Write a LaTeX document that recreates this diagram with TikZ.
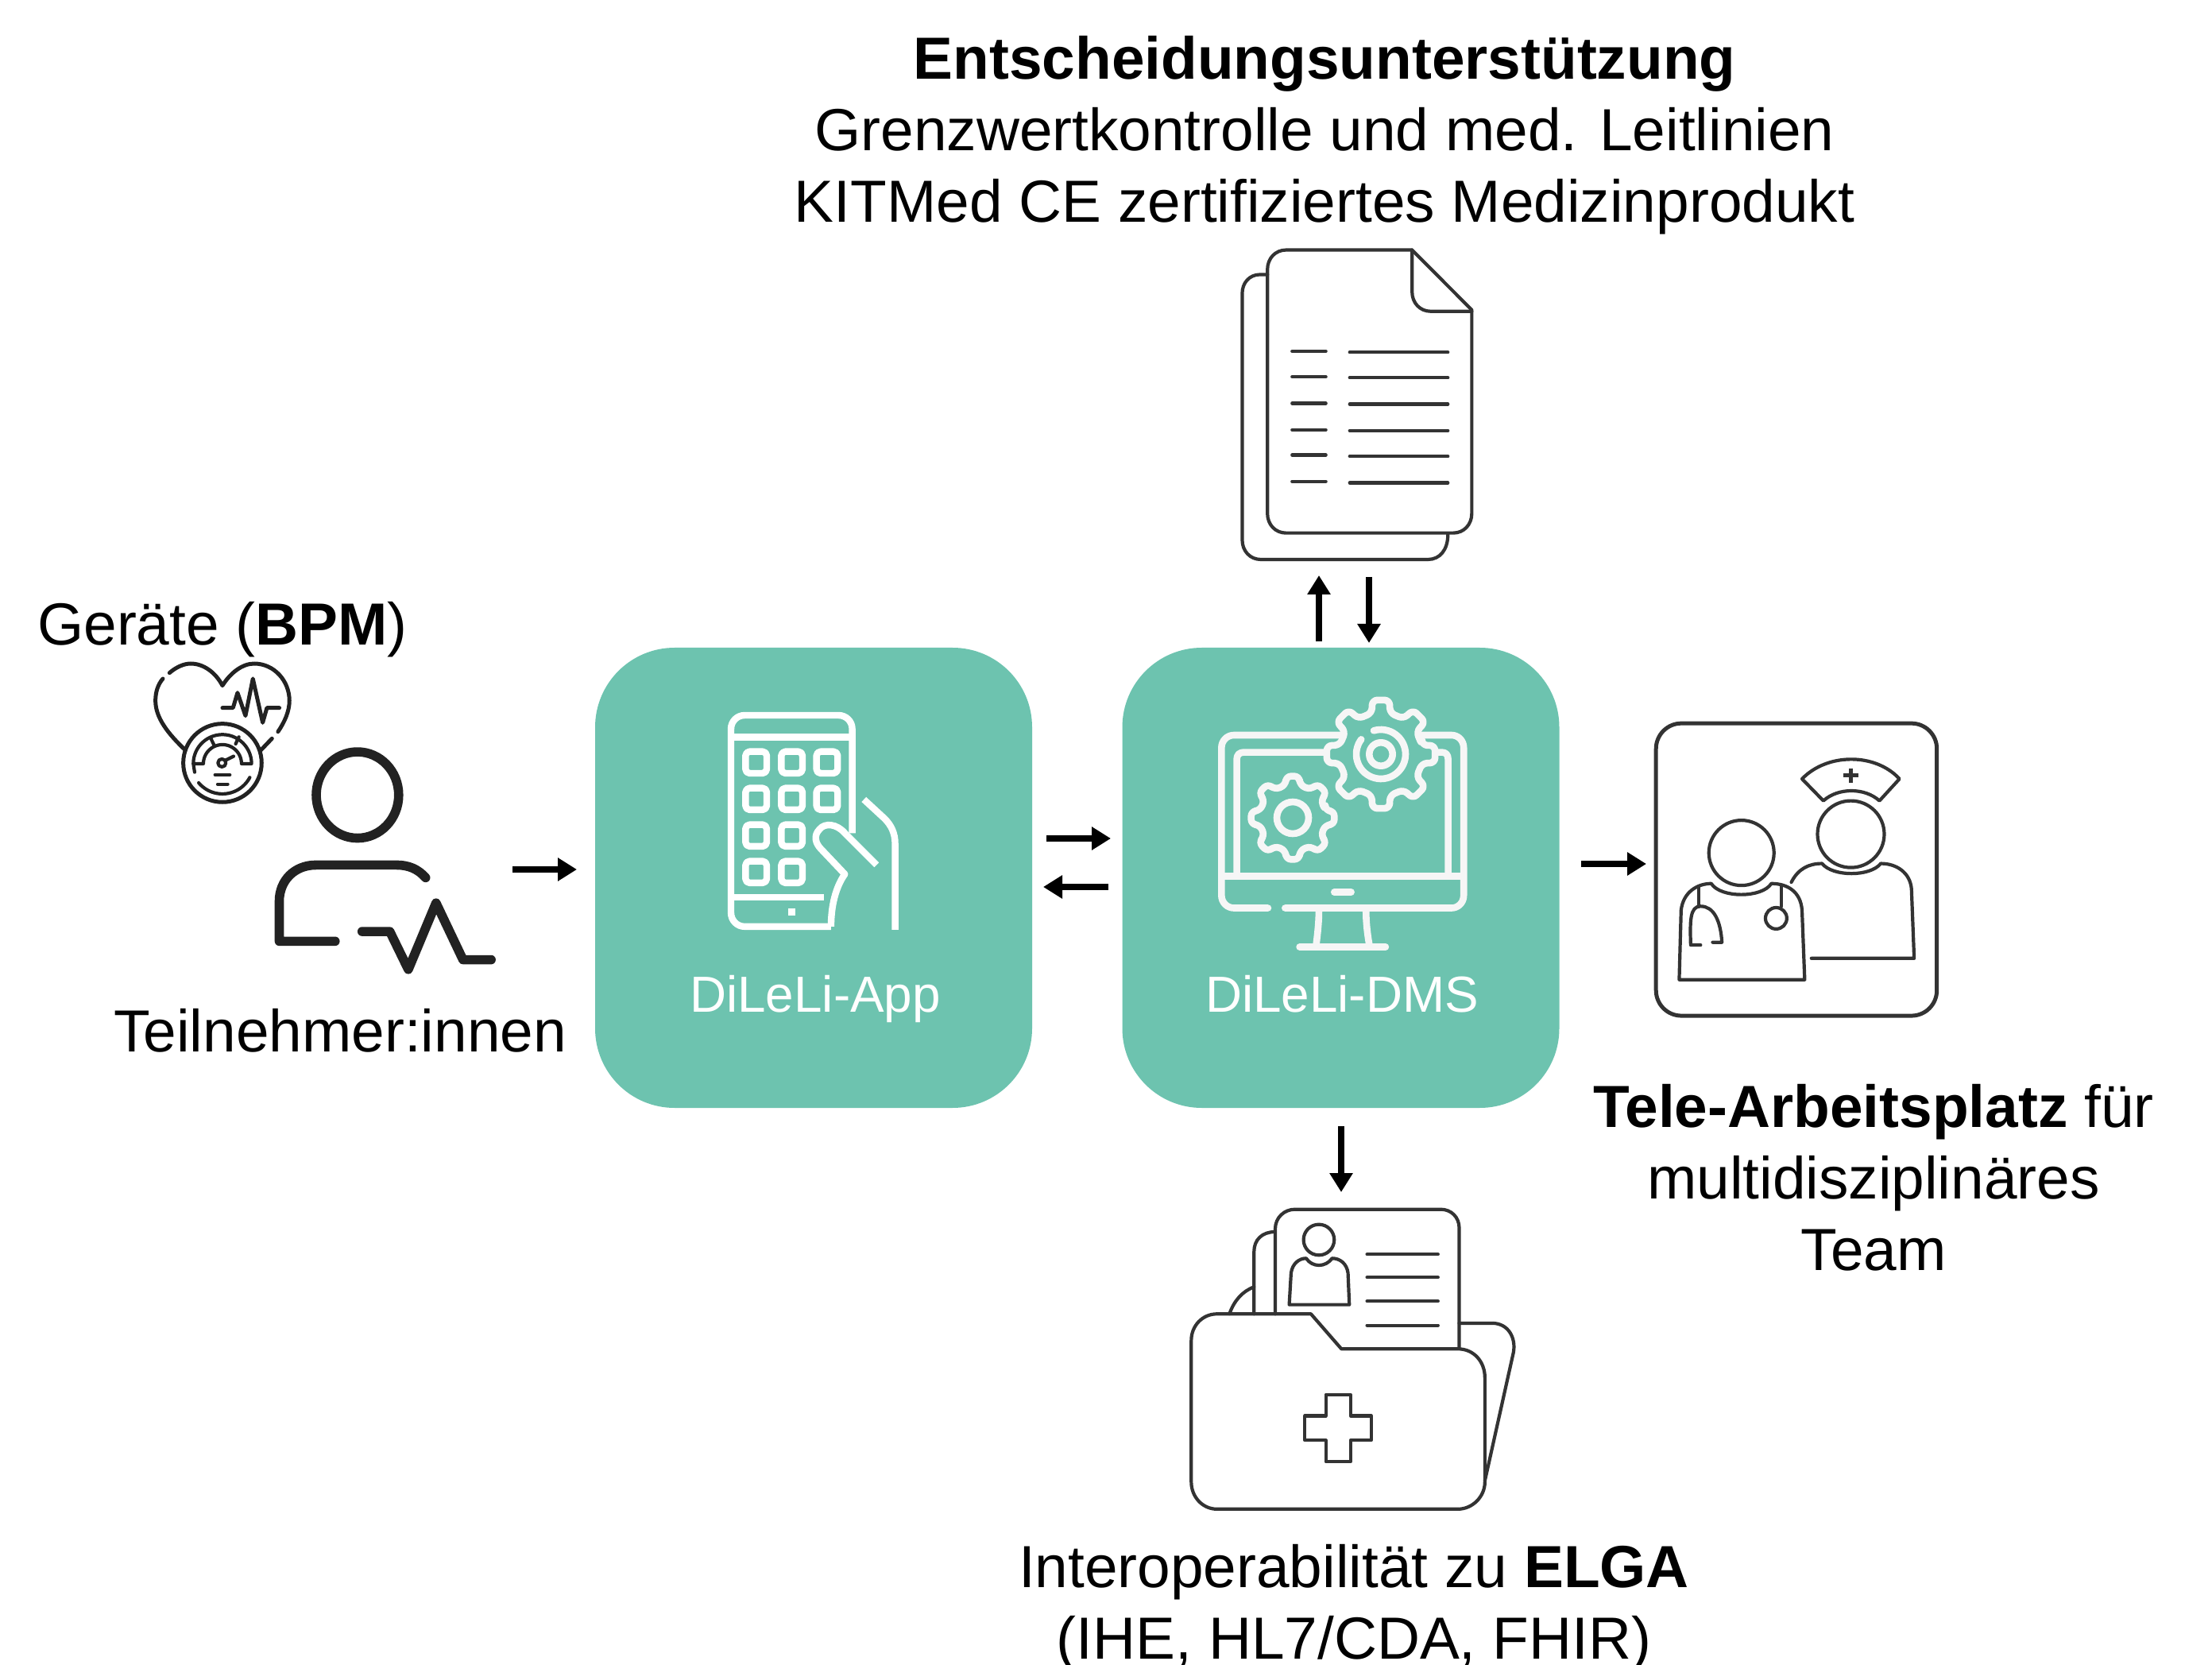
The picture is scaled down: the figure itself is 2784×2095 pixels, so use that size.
\documentclass[tikz,border=0pt]{standalone}
\usepackage{fontspec}
\setmainfont{Liberation Sans}
\usetikzlibrary{arrows.meta}
\definecolor{teal1}{HTML}{6DC3AF}
\definecolor{ink}{HTML}{333333}
\definecolor{inkd}{HTML}{222222}
\definecolor{paperw}{HTML}{F6F6F6}
\tikzset{
  lbl/.style={inner sep=0pt,outer sep=0pt,anchor=base,align=center,font=\fontsize{18.7}{22.5}\selectfont,text=black},
  boxlbl/.style={inner sep=0pt,anchor=base,font=\fontsize{15.95}{18}\selectfont,text=white},
  bigbox/.style={fill=teal1,draw=none,rounded corners=25pt,minimum width=137.5pt,minimum height=144.75pt,inner sep=0pt},
  flow/.style={-{Triangle[length=6pt,width=7pt]},line width=2pt,black},
  icon/.style={draw=ink,line width=1.05pt,line cap=round,line join=round},
  iconw/.style={draw=white,line width=2.1pt,line join=round},
  iconm/.style={draw=paperw,line width=2.15pt,line join=round,line cap=round},
  person/.style={draw=inkd,line width=2.9pt,line cap=round,line join=round},
  bpm/.style={draw=inkd,line width=1.25pt,line cap=round,line join=round},
  bpmt/.style={draw=inkd,line width=1.05pt,line cap=round,line join=round}
}
\newcommand{\gearshape}[3]{% centre, tip radius, root radius
  \begin{scope}[shift={#1}]
  \draw[iconm,fill=teal1,rounded corners=1.6pt]
    (-12.5:#3) \foreach \a in {0,45,...,315}{ -- (\a-12.5:#3) -- (\a-9:#2) -- (\a+9:#2) -- (\a+12.5:#3) } -- cycle;
  \end{scope}}
\begin{document}
\begin{tikzpicture}[x=0.25pt,y=-0.25pt]
\useasboundingbox (0,0) rectangle (2784,2095);

% main boxes
\node[bigbox] (app) at (1024,1104.5) {};
\node[bigbox] (dms) at (1687.5,1104.5) {};
\node[boxlbl] (applbl) at (1026,1273) {DiLeLi-App};
\node[boxlbl] (dmslbl) at (1689,1273) {DiLeLi-DMS};

% texts (anchor=base is the last line's baseline)
\node[lbl] (entsch) at (1667,280) {\textbf{Entscheidungsunterstützung}\\Grenzwertkontrolle und med. Leitlinien\\KITMed CE zertifiziertes Medizinprodukt};
\node[lbl] (geraete) at (280,812) {Geräte (\textbf{BPM})};
\node[lbl] (teiln) at (428,1323) {Teilnehmer:innen};
\node[lbl] (tele) at (2358,1598) {\textbf{Tele-Arbeitsplatz} für\\multidisziplinäres\\Team};
\node[lbl] (elga) at (1704,2087) {Interoperabilität zu \textbf{ELGA}\\(IHE, HL7/CDA, FHIR)};

% connectors
\coordinate (p1) at (645,1094); \coordinate (p2) at (726,1094);
\coordinate (a1) at (1317,1055); \coordinate (a2) at (1398,1055);
\coordinate (b1) at (1395,1116); \coordinate (b2) at (1313,1116);
\coordinate (u1) at (1660,807); \coordinate (u2) at (1660,724);
\coordinate (d1) at (1723,726); \coordinate (d2) at (1723,809);
\coordinate (r1) at (1990,1087); \coordinate (r2) at (2072,1087);
\coordinate (e1) at (1688,1417); \coordinate (e2) at (1688,1500);
\draw[flow] (p1) -- (p2);
\draw[flow] (a1) -- (a2);
\draw[flow] (b1) -- (b2);
\draw[flow] (u1) -- (u2);
\draw[flow] (d1) -- (d2);
\draw[flow] (r1) -- (r2);
\draw[flow] (e1) -- (e2);

% person
\begin{scope}[shift={(0,720)},x=0.1212pt,y=-0.102pt]
\draw[person] (928,687) ellipse (107 and 133);
\draw[person] (1105,942) .. controls (1085,915) and (1060,903) .. (1030,903) -- (820,903) .. controls (765,903) and (725,950) .. (725,1015) -- (725,1138) -- (870,1138);
\draw[person] (940,1108) -- (1012,1108) -- (1060,1225) -- (1132,1020) -- (1202,1195) -- (1275,1195);
\end{scope}

% heart and gauge
\begin{scope}[shift={(180,830)},x=0.0833pt,y=-0.0833pt]
\draw[bpm] (100,50) .. controls (125,28) and (155,15) .. (180,15) .. controls (230,15) and (275,50) .. (300,98) .. controls (330,50) and (375,15) .. (420,15) .. controls (495,15) and (553,80) .. (553,155) .. controls (553,195) and (535,235) .. (510,272);
\draw[bpm] (487,298) -- (445,342);
\draw[bpm] (75,72) .. controls (55,95) and (47,125) .. (47,155) .. controls (47,220) and (95,280) .. (160,342);
\draw[bpm] (300,182) -- (340,182) -- (357,125) -- (387,212) -- (415,72) -- (452,238) -- (468,182) -- (515,182);
\draw[bpm] (300,390) circle (148);
\draw[bpmt] (195,425) -- (190,393) plot[domain=180:360,samples=40] ({300+110*cos(\x)},{393+110*sin(\x)}) -- (372,393) plot[domain=360:180,samples=40] ({300+72*cos(\x)},{393+72*sin(\x)}) -- (190,393);
\draw[bpmt] (255,295) -- (268,322);
\draw[bpmt] (350,318) -- (362,292);
\draw[bpmt] plot[domain=140:28,samples=30] ({300+117*cos(\x)},{390+117*sin(\x)});
\draw[bpmt] (298,390) circle (15);
\draw[bpmt] (312,380) -- (342,365);
\draw[bpmt] (272,435) -- (328,435);
\draw[bpmt] (282,470) -- (320,470);
\end{scope}

% phone icon
\begin{scope}[shift={(900,880)},x=0.0833pt,y=-0.0833pt]
\draw[iconw] (438,858) -- (112,858) .. controls (83,858) and (60,835) .. (60,805) -- (60,112) .. controls (60,83) and (83,60) .. (112,60) -- (466,60) .. controls (495,60) and (518,83) .. (518,112) -- (518,505);
\draw[iconw] (60,142) -- (518,142);
\draw[iconw] (60,748) -- (410,748);
\fill[white] (277,790) rectangle (303,817);
\foreach \cx in {155,290,423}{\foreach \cy in {238,376}{
  \draw[iconw,rounded corners=1.3pt] (\cx-40,\cy-41) rectangle (\cx+40,\cy+41);}}
\foreach \cx in {155,290}{\foreach \cy in {514,652}{
  \draw[iconw,rounded corners=1.3pt] (\cx-40,\cy-41) rectangle (\cx+40,\cy+41);}}
\draw[iconw] (610,625) -- (490,505) .. controls (460,470) and (415,465) .. (395,490) .. controls (370,515) and (380,545) .. (400,565) -- (490,660) .. controls (455,710) and (438,780) .. (438,858);
\draw[iconw] (562,378) -- (640,450) .. controls (665,475) and (680,505) .. (680,545) -- (680,870);
\end{scope}

% monitor icon
\begin{scope}[shift={(1520,860)},x=0.0833pt,y=-0.0833pt]
\draw[iconm] (228,848) -- (100,848) .. controls (73,848) and (52,827) .. (52,800) -- (52,243) .. controls (52,216) and (73,195) .. (100,195) -- (500,195);
\draw[iconm] (810,195) -- (920,195) .. controls (947,195) and (967,216) .. (967,243) -- (967,800) .. controls (967,827) and (947,848) .. (920,848) -- (292,848);
\draw[iconm] (110,725) -- (110,285) .. controls (110,270) and (120,260) .. (135,260) -- (445,260);
\draw[iconm] (860,260) -- (885,260) .. controls (900,260) and (908,270) .. (908,285) -- (908,725);
\draw[iconm,line cap=butt] (52,728) -- (967,728);
\draw[iconm] (478,788) -- (542,788);
\draw[iconm,line cap=butt] (420,860) .. controls (420,900) and (415,945) .. (410,985);
\draw[iconm,line cap=butt] (598,860) .. controls (598,900) and (603,945) .. (610,985);
\draw[iconm] (347,995) -- (672,995);
\end{scope}
\gearshape{(1738,949)}{69}{53}
\gearshape{(1627,1029)}{53}{42}
\draw[iconm] plot[domain=-107:217,samples=50] ({1738+31*cos(\x)},{949+31*sin(\x)});
\draw[iconm] (1738,949) circle (14.7);
\draw[iconm] (1627,1029) circle (20);

% documents icon
\begin{scope}[shift={(1500,290)},x=0.0835pt,y=-0.0877pt]
\draw[icon] (285,158) -- (258,158) .. controls (215,158) and (190,190) .. (190,225) -- (190,1110) .. controls (190,1150) and (220,1180) .. (260,1180) -- (890,1180) .. controls (935,1180) and (965,1145) .. (965,1090);
\draw[icon] (830,70) -- (355,70) .. controls (315,70) and (285,100) .. (285,140) -- (285,1015) .. controls (285,1055) and (315,1085) .. (355,1085) -- (985,1085) .. controls (1025,1085) and (1055,1055) .. (1055,1015) -- (1055,285) -- cycle;
\draw[icon] (830,70) -- (830,220) .. controls (830,260) and (860,290) .. (900,290) -- (1055,290);
\foreach \yl/\yr in {433/437,525/528,620/623,715/718,805/810,900/905}{
  \draw[icon] (378,\yl) -- (505,\yl);
  \draw[icon] (595,\yr) -- (965,\yr);
}
\end{scope}

% team icon
\begin{scope}[shift={(2058,890)},x=0.084pt,y=-0.084pt]
\draw[icon,line width=1.25pt,rounded corners=8pt] (78,60) rectangle (1130,1155);
\draw[icon] (398,545) circle (122);
\draw[icon] (808,475) circle (125);
\draw[icon] (625,268) .. controls (720,170) and (900,170) .. (990,268) -- (915,350) .. controls (860,300) and (760,300) .. (705,350) -- cycle;
\draw[icon,line width=1.3pt,line cap=butt] (808,228) -- (808,282) (780,255) -- (836,255);
\draw[icon] (165,1020) -- (172,760) .. controls (180,690) and (235,660) .. (285,660) .. controls (320,715) and (475,715) .. (510,660) .. controls (570,660) and (620,690) .. (625,760) -- (635,1020) -- cycle;
\draw[icon] (585,655) .. controls (610,605) and (650,585) .. (700,585) .. controls (740,635) and (880,635) .. (920,585) .. controls (980,585) and (1030,620) .. (1035,680) -- (1045,940) -- (660,940);
\draw[icon] (238,670) -- (238,745);
\draw[icon] (245,890) -- (208,890) .. controls (205,800) and (205,745) .. (245,745) .. controls (295,745) and (320,800) .. (325,880) -- (290,880);
\draw[icon] (548,670) -- (548,745);
\draw[icon] (528,790) circle (40);
\end{scope}

% record folder icon
\begin{scope}[shift={(1470,1500)},x=0.0833pt,y=-0.0833pt]
\draw[icon] (1100,495) -- (1225,495) .. controls (1285,495) and (1315,550) .. (1305,605) -- (1197,1090);
\draw[icon] (232,460) .. controls (250,410) and (280,375) .. (325,358);
\draw[icon] (325,460) -- (325,225) .. controls (325,180) and (355,150) .. (405,150);
\draw[icon] (405,460) -- (405,140) .. controls (405,95) and (440,65) .. (480,65) -- (1030,65) .. controls (1070,65) and (1100,95) .. (1100,135) -- (1100,590);
\draw[icon] (570,180) circle (58);
\draw[icon] (458,425) -- (465,305) .. controls (470,270) and (495,250) .. (522,250) .. controls (545,285) and (595,285) .. (620,250) .. controls (650,250) and (675,270) .. (680,305) -- (685,425) -- cycle;
\foreach \yy in {235,322,412,503}{\draw[icon] (752,\yy) -- (1020,\yy);}
\draw[icon] (540,460) -- (185,460) .. controls (130,460) and (88,505) .. (88,560) -- (88,1095) .. controls (88,1150) and (130,1197) .. (185,1197) -- (1095,1197) .. controls (1150,1197) and (1197,1150) .. (1197,1095) -- (1197,700) .. controls (1197,640) and (1155,592) .. (1095,592) -- (655,592) -- cycle;
\draw[icon] (596,765) -- (690,765) -- (690,845) -- (768,845) -- (768,937) -- (690,937) -- (690,1018) -- (596,1018) -- (596,937) -- (517,937) -- (517,845) -- (596,845) -- cycle;
\end{scope}
\end{tikzpicture}
\end{document}
